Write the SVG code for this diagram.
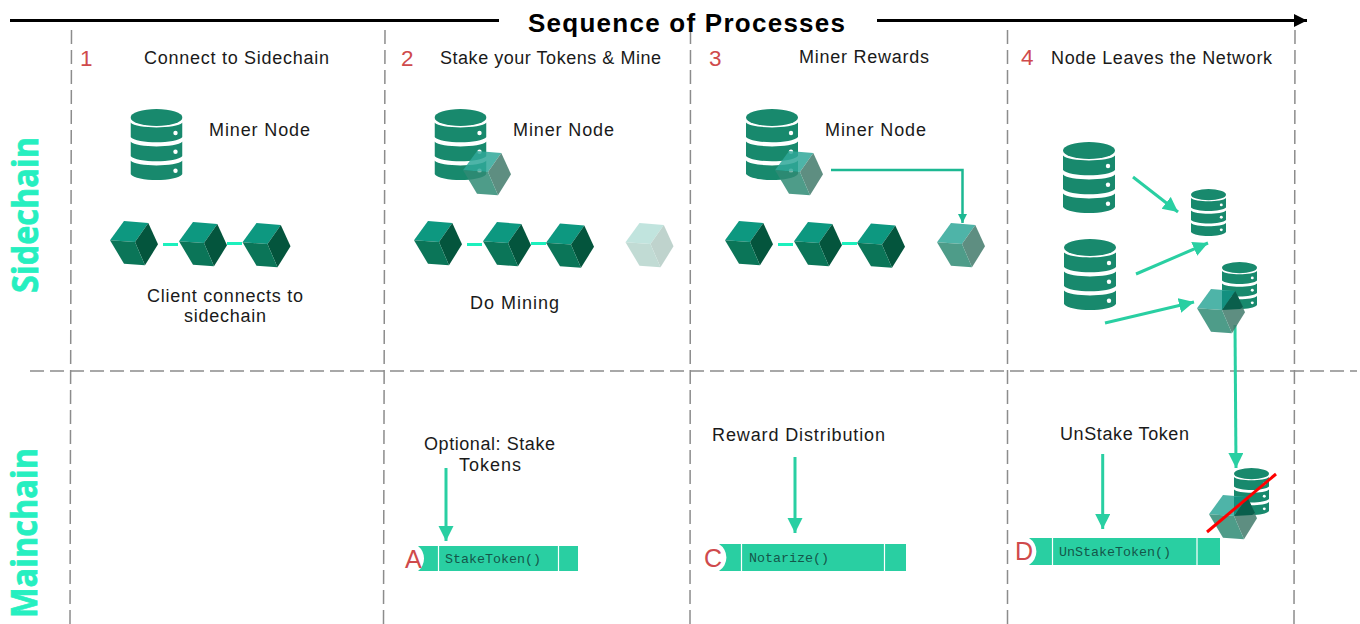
<svg xmlns="http://www.w3.org/2000/svg" width="1360" height="624" viewBox="0 0 1360 624">
<style>
text{font-family:"Liberation Sans",Arial,sans-serif;fill:#1a1a1a}
.t{font-size:18px}
.n{font-size:22.500px;fill:#cf4a4c}
.L{font-size:25px;fill:#cf4a4c}
.side{font-family:"Open Sans","Liberation Sans",sans-serif;font-size:35px;font-weight:700;fill:#26efc0;stroke:#26efc0;stroke-width:.7px}
.m{font-family:"Liberation Mono",monospace;font-size:13.330px;fill:#14574a}
.grid{stroke:#8c8c8c;stroke-width:1.5;stroke-dasharray:14 6;fill:none}
.c{stroke:#29cfa2;stroke-width:3;fill:none;marker-end:url(#a)}
.cs{stroke:#1cb892;stroke-width:2.500;fill:none;marker-end:url(#s)}
.link{stroke:#1cf0bd;stroke-width:3}
.bar{fill:#29cfa2}
.div{stroke:#fff;stroke-width:1.200}
</style>
<defs>
<marker id="a" markerUnits="userSpaceOnUse" markerWidth="16" markerHeight="16" refX="15" refY="7.500" orient="auto"><path d="M0 0L15 7.500L0 15Z" fill="#29cfa2"/></marker>
<marker id="s" markerUnits="userSpaceOnUse" markerWidth="10" markerHeight="10" refX="9" refY="4.500" orient="auto"><path d="M0 0L9 4.500L0 9Z" fill="#1cb892"/></marker>
<marker id="b" markerUnits="userSpaceOnUse" markerWidth="14" markerHeight="14" refX="13" refY="6.500" orient="auto"><path d="M0 0L13 6.500L0 13Z" fill="#000"/></marker>
<symbol id="db" viewBox="0 0 52 71" preserveAspectRatio="none">
<ellipse cx="26" cy="8.500" rx="26" ry="8.500" fill="#18896d"/>
<path d="M0 13.500C6 20 46 20 52 13.500V28C46 35 6 35 0 28Z" fill="#18896d"/>
<path d="M0 32.500C6 39 46 39 52 32.500V47C46 54 6 54 0 47Z" fill="#18896d"/>
<path d="M0 51.500C6 58 46 58 52 51.500V65C46 73 6 73 0 65Z" fill="#18896d"/>
<circle cx="45" cy="24" r="2.200" fill="#fff"/><circle cx="45" cy="42.700" r="2.200" fill="#fff"/><circle cx="45" cy="61.700" r="2.200" fill="#fff"/>
</symbol>
<g id="cube">
<path d="M0 19.300L14 0L38.300 2L25 21Z" fill="#0d9880"/>
<path d="M25 21L38.300 2L48 23.300L35 44.300Z" fill="#04553d"/>
<path d="M0 19.300L25 21L35 44.300L14 42.700Z" fill="#0b7558"/>
</g>
<g id="ghost">
<path d="M0 19.300L14 0L38.300 2L25 21Z" fill="#30a899"/>
<path d="M25 21L38.300 2L48 23.300L35 44.300Z" fill="#427b6c"/>
<path d="M0 19.300L25 21L35 44.300L14 42.700Z" fill="#308b75"/>
</g>
<g id="overlap">
<path d="M25 2L38.300 2L25 21Z" fill="#12907f"/>
<path d="M25 21L38.300 2L46 18L43 20L25 21Z" fill="#0a5f4c"/>
</g>
</defs>
<rect width="1360" height="624" fill="#fff"/>
<g id="grid">
<path class="grid" d="M71.500 30L70 624M385 30L383.500 624M690.500 30L690 624M1007.500 30V624M1295 30L1294 624M30 371H1357"/>
</g>
<g id="connectors">
<path d="M10 20.500H499" stroke="#000" stroke-width="3"/>
<path d="M877 20.500H1307" stroke="#000" stroke-width="3" marker-end="url(#b)"/>
<path class="cs" d="M831 170H962.500V223"/>
<path class="c" d="M1133 177L1178 212"/>
<path class="c" d="M1136 274L1208 243"/>
<path class="c" d="M1105 323L1194 302"/>
<path class="c" d="M1235 325L1236 468"/>
<path class="c" d="M446 468V541"/>
<path class="c" d="M795 457V533"/>
<path class="c" d="M1102.700 454V529"/>
<path class="link" d="M163 244.500H178M227 243.500H242M467 244.500H482M531 243.500H546M778 244.500H793M842 243.500H857"/>
</g>
<g id="title"><text x="528" y="32" style="font-size:26px;font-weight:700;fill:#000" textLength="317">Sequence of Processes</text></g>
<g id="side-labels">
<text class="side" transform="translate(38,293) rotate(-90)" textLength="156" lengthAdjust="spacingAndGlyphs">Sidechain</text>
<text class="side" transform="translate(37,618) rotate(-90)" textLength="170" lengthAdjust="spacingAndGlyphs">Mainchain</text>
</g>
<g id="col1">
<text class="n" x="80" y="66">1</text>
<text class="t" x="144" y="64" textLength="185">Connect to Sidechain</text>
<use href="#db" x="130.500" y="109" width="52" height="71"/>
<text class="t" x="209" y="136" textLength="101">Miner Node</text>
<use href="#cube" x="110" y="221"/><use href="#cube" x="179" y="222"/><use href="#cube" x="242.500" y="223"/>
<text class="t" x="147" y="302" textLength="156">Client connects to</text>
<text class="t" x="184" y="322" textLength="82">sidechain</text>
</g>
<g id="col2">
<text class="n" x="401" y="66">2</text>
<text class="t" x="440" y="64" textLength="221">Stake your Tokens &amp; Mine</text>
<use href="#db" x="434.500" y="109" width="52" height="71"/>
<use href="#ghost" x="463" y="151" opacity=".85"/>
<text class="t" x="513" y="136" textLength="101">Miner Node</text>
<use href="#cube" x="414" y="221"/><use href="#cube" x="483" y="222"/><use href="#cube" x="546" y="223.500"/>
<use href="#cube" x="625.500" y="223" opacity=".25"/>
<text class="t" x="470" y="309" textLength="89">Do Mining</text>
<text class="t" x="424" y="450" textLength="131">Optional: Stake</text>
<text class="t" x="459" y="471" textLength="62">Tokens</text>
</g>
<g id="col3">
<text class="n" x="709" y="66">3</text>
<text class="t" x="799" y="63" textLength="130">Miner Rewards</text>
<use href="#db" x="746" y="109" width="52" height="71"/>
<use href="#ghost" x="775" y="151" opacity=".85"/>
<text class="t" x="825" y="136" textLength="101">Miner Node</text>
<use href="#cube" x="725" y="221"/><use href="#cube" x="794" y="222"/><use href="#cube" x="857" y="223.500"/>
<use href="#ghost" x="937" y="223" opacity=".85"/>
<text class="t" x="712" y="441" textLength="173">Reward Distribution</text>
</g>
<g id="col4">
<text class="n" x="1021" y="65">4</text>
<text class="t" x="1051" y="64" textLength="221">Node Leaves the Network</text>
<use href="#db" x="1063" y="142" width="52" height="71"/>
<use href="#db" x="1064" y="239" width="52" height="71"/>
<use href="#db" x="1191" y="189" width="35" height="47"/>
<use href="#db" x="1222" y="262" width="35" height="47"/>
<use href="#ghost" x="1197" y="289" opacity=".85"/>
<use href="#overlap" x="1197" y="289"/>
<text class="t" x="1060" y="440" textLength="129">UnStake Token</text>
<use href="#db" x="1234" y="468" width="35" height="47"/>
<use href="#ghost" x="1209" y="495" opacity=".85"/>
<use href="#overlap" x="1209" y="495"/>
<path d="M1207 532L1276 474" stroke="#f00" stroke-width="3"/>
</g>
<g id="bar-a">
<path class="bar" d="M418 546H578V571H418A16 16 0 0 0 418 546Z"/>
<path class="div" d="M438.500 546V571M558.500 546V571"/>
<text class="m" x="445" y="563">StakeToken()</text>
<text class="L" x="405" y="568">A</text>
</g>
<g id="bar-c">
<path class="bar" d="M719 544H906V571H719A16 16 0 0 0 719 544Z"/>
<path class="div" d="M741.500 544V571M884.500 544V571"/>
<text class="m" x="749" y="562">Notarize()</text>
<text class="L" x="704" y="567">C</text>
</g>
<g id="bar-d">
<path class="bar" d="M1029 538H1220V565H1029A16 16 0 0 0 1029 538Z"/>
<path class="div" d="M1052.500 538V565M1197 538V565"/>
<text class="m" x="1059" y="556">UnStakeToken()</text>
<text class="L" x="1015" y="560">D</text>
</g>
</svg>
